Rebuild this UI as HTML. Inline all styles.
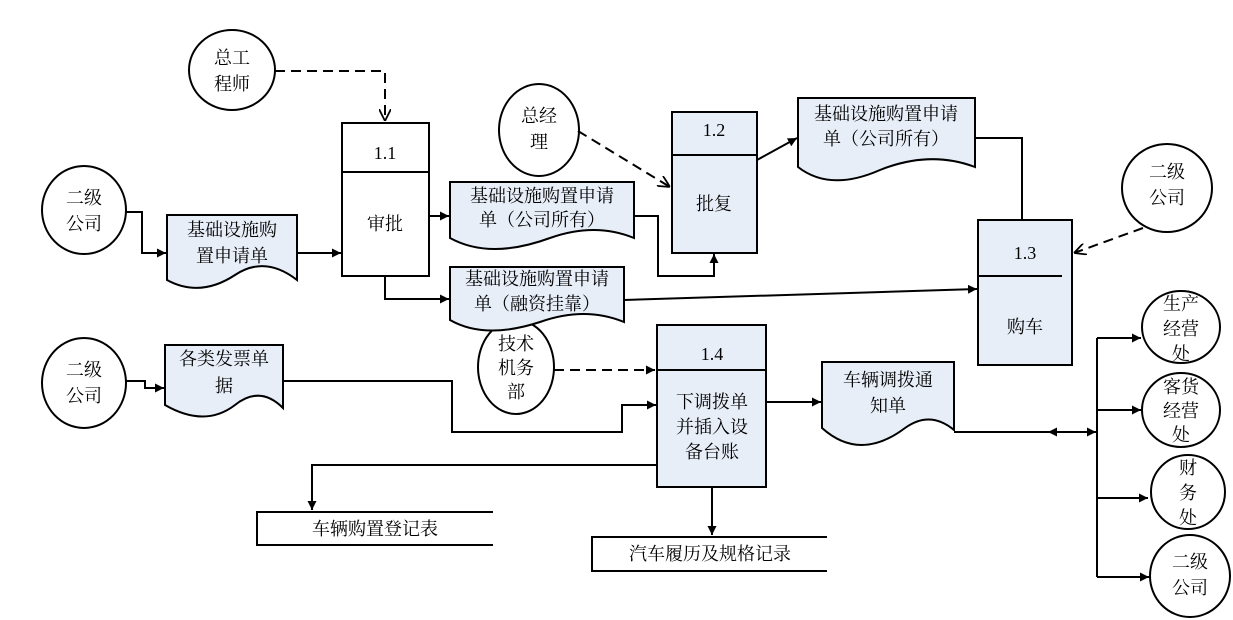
<!DOCTYPE html>
<html><head><meta charset="utf-8"><style>
html,body{margin:0;padding:0;background:#fff;}
svg{display:block;}
text{font-family:"Liberation Serif","Noto Serif CJK SC","Noto Sans CJK SC",serif;font-size:18px;fill:#000;text-anchor:middle;}
</style></head><body>
<svg width="1233" height="620" viewBox="0 0 1233 620" xmlns="http://www.w3.org/2000/svg">
<defs>
<marker id="a" viewBox="0 0 10 10" refX="10" refY="5" markerWidth="9" markerHeight="9" orient="auto" markerUnits="userSpaceOnUse"><path d="M0,0 L10,5 L0,10 z" fill="#000"/></marker>
<marker id="o" viewBox="0 0 10 10" refX="10" refY="5" markerWidth="12" markerHeight="12" orient="auto" markerUnits="userSpaceOnUse"><path d="M0,0 L10,5 L0,10" fill="none" stroke="#000" stroke-width="1.5"/></marker>
</defs>
<g fill="none" stroke="#000" stroke-width="2">
<ellipse cx="232" cy="70" rx="43" ry="40" fill="#fff"/>
<ellipse cx="84" cy="210" rx="42" ry="44" fill="#fff"/>
<ellipse cx="539" cy="130" rx="40" ry="46" fill="#fff"/>
<ellipse cx="1167" cy="188" rx="45" ry="44" fill="#fff"/>
<ellipse cx="84" cy="383" rx="42" ry="45" fill="#fff"/>
<ellipse cx="516" cy="367" rx="38" ry="47" fill="#fff"/>
<ellipse cx="1181" cy="327" rx="39" ry="36" fill="#fff"/>
<ellipse cx="1181" cy="410" rx="39" ry="37" fill="#fff"/>
<ellipse cx="1188" cy="492" rx="37" ry="37" fill="#fff"/>
<ellipse cx="1190" cy="576" rx="40" ry="41" fill="#fff"/>
<path d="M167,215 H297 V280 Q265,255 235,275 Q200,298 167,280 Z" fill="#e8eef8"/>
<path d="M450,182 H634 V238 Q595,222 550,238 Q490,260 450,238 Z" fill="#e8eef8"/>
<path d="M450,267 H624 V322 Q585,306 540,322 Q485,340 450,320 Z" fill="#e8eef8"/>
<path d="M798,98 H975 V167 Q930,150 880,170 Q830,192 798,167 Z" fill="#e8eef8"/>
<path d="M165,345 H283 V408 Q260,385 235,405 Q205,428 165,405 Z" fill="#e8eef8"/>
<path d="M822,362 H954 V430 Q930,410 905,428 Q860,462 822,428 Z" fill="#e8eef8"/>
<rect x="342" y="123" width="87" height="153" fill="#fff"/><line x1="342" y1="172" x2="429" y2="172"/>
<rect x="672" y="112" width="85" height="141" fill="#e8eef8"/><line x1="672" y1="155" x2="757" y2="155"/>
<rect x="978" y="220" width="94" height="145" fill="#e8eef8"/><line x1="978" y1="276" x2="1062" y2="276"/>
<rect x="657" y="325" width="109" height="162" fill="#e8eef8"/><line x1="657" y1="370" x2="766" y2="370"/>
<path d="M493,512 H257 V545 H493"/>
<path d="M827,537 H592 V571 H827"/>
<path d="M275,71 H385 V121" stroke-dasharray="10,6" marker-end="url(#o)"/>
<path d="M578,131 L670,187" stroke-dasharray="10,6" marker-end="url(#o)"/>
<path d="M1143,228 L1074,253" stroke-dasharray="10,6" marker-end="url(#o)"/>
<path d="M554,370 H655" stroke-dasharray="10,6" marker-end="url(#a)"/>
<path d="M126,212 H142 V253 H166" marker-end="url(#a)"/>
<path d="M297,253 H341" marker-end="url(#a)"/>
<path d="M429,216 H449" marker-end="url(#a)"/>
<path d="M385,276 V299 H449" marker-end="url(#a)"/>
<path d="M634,216 H658 V276 H714 V254" marker-end="url(#a)"/>
<path d="M757,160 L797,138" marker-end="url(#a)"/>
<path d="M975,138 H1022 V220"/>
<path d="M624,300 L977,289" marker-end="url(#a)"/>
<path d="M126,381 H145 V388 H164" marker-end="url(#a)"/>
<path d="M283,381 H452 V432 H622 V405 H656" marker-end="url(#a)"/>
<path d="M766,402 H821" marker-end="url(#a)"/>
<path d="M954,432 H1096" marker-end="url(#a)"/>
<path d="M1060,432 H1048" marker-end="url(#a)"/>
<path d="M1097,338 V577"/>
<path d="M1097,338 H1141" marker-end="url(#a)"/>
<path d="M1097,410 H1141" marker-end="url(#a)"/>
<path d="M1097,498 H1148" marker-end="url(#a)"/>
<path d="M1097,577 H1149" marker-end="url(#a)"/>
<path d="M657,465 H312 V510" marker-end="url(#a)"/>
<path d="M712,487 V535" marker-end="url(#a)"/>
</g>
<text x="232" y="64">总工</text><text x="232" y="90">程师</text>
<text x="84" y="204">二级</text><text x="84" y="230">公司</text>
<text x="539" y="122">总经</text><text x="539" y="148">理</text>
<text x="1167" y="178">二级</text><text x="1167" y="204">公司</text>
<text x="84" y="376">二级</text><text x="84" y="402">公司</text>
<text x="516" y="350">技术</text><text x="516" y="374">机务</text><text x="516" y="398">部</text>
<text x="1181" y="310">生产</text><text x="1181" y="335">经营</text><text x="1181" y="360">处</text>
<text x="1181" y="393">客货</text><text x="1181" y="417">经营</text><text x="1181" y="441">处</text>
<text x="1188" y="474">财</text><text x="1188" y="499">务</text><text x="1188" y="524">处</text>
<text x="1190" y="568">二级</text><text x="1190" y="594">公司</text>
<text x="232" y="236">基础设施购</text><text x="232" y="262">置申请单</text>
<text x="542" y="202">基础设施购置申请</text><text x="542" y="226">单（公司所有）</text>
<text x="537" y="285">基础设施购置申请</text><text x="537" y="310">单（融资挂靠）</text>
<text x="886" y="120">基础设施购置申请</text><text x="886" y="145">单（公司所有）</text>
<text x="224" y="365">各类发票单</text><text x="224" y="392">据</text>
<text x="888" y="386">车辆调拨通</text><text x="888" y="412">知单</text>
<text x="385" y="159">1.1</text><text x="385" y="230">审批</text>
<text x="714" y="136">1.2</text><text x="714" y="210">批复</text>
<text x="1025" y="259">1.3</text><text x="1025" y="333">购车</text>
<text x="712" y="360">1.4</text>
<text x="712" y="408">下调拨单</text><text x="712" y="433">并插入设</text><text x="712" y="458">备台账</text>
<text x="375" y="535">车辆购置登记表</text>
<text x="710" y="560">汽车履历及规格记录</text>
</svg>
</body></html>
